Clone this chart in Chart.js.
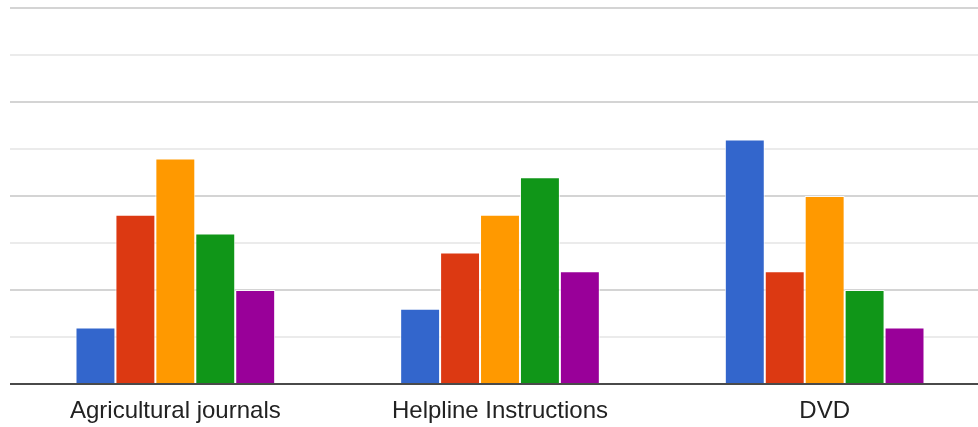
<!DOCTYPE html>
<html>
<head>
<meta charset="utf-8">
<script src="https://cdn.jsdelivr.net/npm/chart.js@4"></script>
<style>
    html, body { margin: 0; padding: 0; background: #fff; overflow: hidden; }
    #wrap { width: 990px; height: 427px; }
</style>
</head>
<body>
<div id="wrap"><canvas id="barChart" width="990" height="427"></canvas></div>
<script>
// Categories and the five series (one value per category)
const categories = ['Agricultural journals', 'Helpline Instructions', 'DVD'];
const seriesBlue = [6, 8, 26];
const seriesRed = [18, 14, 12];
const seriesOrange = [24, 18, 20];
const seriesGreen = [16, 22, 10];
const seriesPurple = [10, 12, 6];

const yTicks = { min: 0, max: 40, step: 5 };

const palette = ['#3366cc', '#dc3912', '#ff9900', '#109618', '#990099'];
const allSeries = [seriesBlue, seriesRed, seriesOrange, seriesGreen, seriesPurple];

const datasets = allSeries.map((values, i) => ({
    label: 'Series ' + (i + 1),
    data: values,
    backgroundColor: palette[i],
    borderColor: 'rgba(255, 255, 255, 0.85)',
    borderWidth: 1,
    borderSkipped: 'bottom',
    barPercentage: 1,
    categoryPercentage: 0.615
}));

const ctx = document.getElementById('barChart').getContext('2d');
new Chart(ctx, {
    type: 'bar',
    data: { labels: categories, datasets: datasets },
    options: {
        responsive: false,
        animation: false,
        layout: { padding: { top: 8, left: 10, right: 3, bottom: 0 } },
        plugins: {
            legend: { display: false },
            tooltip: { enabled: false }
        },
        scales: {
            x: {
                grid: { display: false, drawTicks: false },
                border: { display: true, color: '#4a4a4a', width: 2 },
                ticks: {
                    padding: 13,
                    color: '#222',
                    font: { family: 'Arial, "Liberation Sans", sans-serif', size: 24 }
                },
                afterFit: function (scale) { scale.height = 43; }
            },
            y: {
                min: yTicks.min,
                max: yTicks.max,
                border: { display: false },
                ticks: { stepSize: yTicks.step, display: false },
                grid: {
                    drawTicks: true,
                    tickLength: 3,
                    lineWidth: 2,
                    color: function (c) {
                        if (c.tick.value === 0) return '#4a4a4a';
                        return c.tick.value % 10 === 0 ? '#d4d4d4' : '#ebebeb';
                    }
                },
                afterFit: function (scale) { scale.width = 3; }
            }
        }
    }
});
</script>
</body>
</html>
